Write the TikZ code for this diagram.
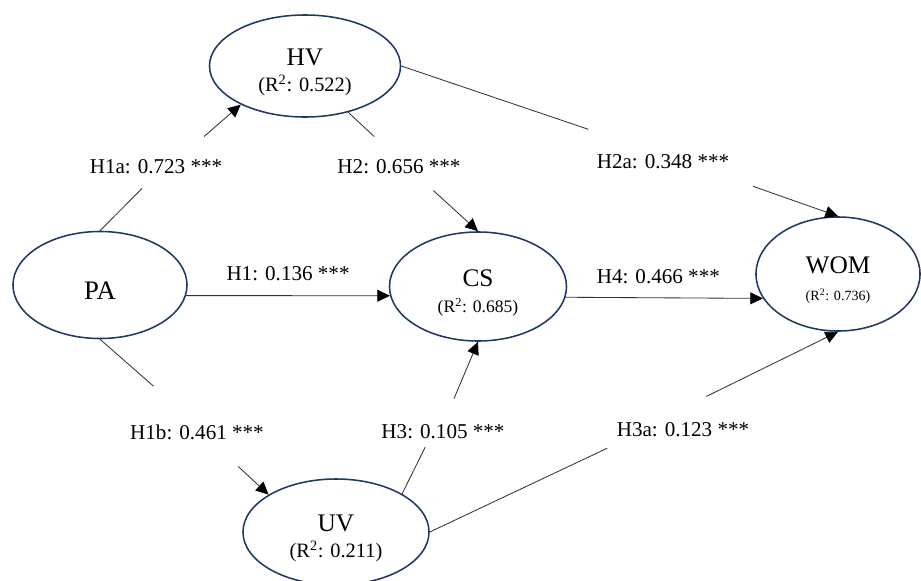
\documentclass[tikz,border=0pt]{standalone}
\usepackage{fontspec}
\setmainfont{Liberation Serif}
\usetikzlibrary{arrows.meta, positioning, shapes.geometric}

\definecolor{navy}{RGB}{32,56,100}
\newcommand{\rsq}[1]{(R\textsuperscript{2}: #1)}
\newcommand{\topstrut}{\rule{0pt}{21pt}}

\begin{document}
\begin{tikzpicture}[
    x=0.025cm, y=-0.025cm,
    construct/.style={draw=navy, line width=1.1pt, ellipse, inner sep=0pt, align=center,
                      font=\fontsize{18}{18}\selectfont},
    coef/.style={inner sep=0pt, font=\fontsize{15}{17}\selectfont},
    link/.style={draw=black!80, line width=0.6pt},
    >={Triangle[length=9pt, width=8.5pt, color=black]}
  ]
  \useasboundingbox (0,0) rectangle (921,580);

  % Constructs
  \node[construct, minimum width=4.35cm, minimum height=2.675cm] (PA) at (100,285)
    {\topstrut\fontsize{19}{19}\selectfont PA};
  \node[construct, minimum width=4.775cm, minimum height=2.55cm] (HV) at (305,66)
    {\topstrut HV\\[1pt] {\fontsize{14.5}{16}\selectfont \rsq{0.522}}};
  \node[construct, minimum width=4.425cm, minimum height=2.725cm] (CS) at (478,286.5)
    {\topstrut CS\\[1pt] {\fontsize{12.5}{14}\selectfont \rsq{0.685}}};
  \node[construct, minimum width=4.1cm, minimum height=2.85cm] (WOM) at (838,274)
    {\topstrut WOM\\[1pt] {\fontsize{10}{12}\selectfont \rsq{0.736}}};
  \node[construct, minimum width=4.65cm, minimum height=2.65cm] (UV) at (336,532)
    {\topstrut UV\\[1pt] {\fontsize{14.5}{16}\selectfont \rsq{0.211}}};

  % Path coefficients
  \node[coef] (h1a) at (156,167) {H1a: 0.723 ***};
  \node[coef] (h2)  at (399,167) {H2: 0.656 ***};
  \node[coef] (h2a) at (663,162) {H2a: 0.348 ***};
  \node[coef] (h1b) at (197,432) {H1b: 0.461 ***};
  \node[coef] (h3)  at (443,432) {H3: 0.105 ***};
  \node[coef] (h3a) at (683,430) {H3a: 0.123 ***};

  % PA -> HV
  \draw[link, shorten >=14pt] (PA.north) -- (h1a.south);
  \draw[link, ->, shorten <=25pt] (h1a.19) -- (HV.211);

  % HV -> CS
  \draw[link, shorten >=24pt] (HV.-47) -- (h2.north);
  \draw[link, ->, shorten <=17pt] (h2.-24) -- (CS.north);

  % HV -> WOM
  \draw[link, shorten >=56pt] (HV.east) -- (h2a.north);
  \draw[link, ->, shorten <=36pt] (h2a.-10) -- (WOM.north);

  % PA -> CS, CS -> WOM
  \draw[link, ->] (PA.-7) -- (CS.186)
    node[coef, midway, above=10pt] (h1) {H1: 0.136 ***};
  \draw[link, ->] (CS.-7) -- (WOM.198)
    node[coef, pos=0.47, above=10pt] (h4) {H4: 0.466 ***};

  % PA -> UV
  \draw[link, shorten >=41pt] (PA.south) -- (h1b.north);
  \draw[link, ->, shorten <=28pt] (h1b.-32) -- (UV.151);

  % UV -> CS
  \draw[link, shorten >=6pt] (UV.30) -- (h3.208);
  \draw[link, ->, shorten <=20pt] (h3.north) -- (CS.south);

  % UV -> WOM
  \draw[link, shorten >=18pt] (UV.east) -- (h3a.188);
  \draw[link, ->, shorten <=42pt] (h3a.166) -- (WOM.south);

\end{tikzpicture}
\end{document}
